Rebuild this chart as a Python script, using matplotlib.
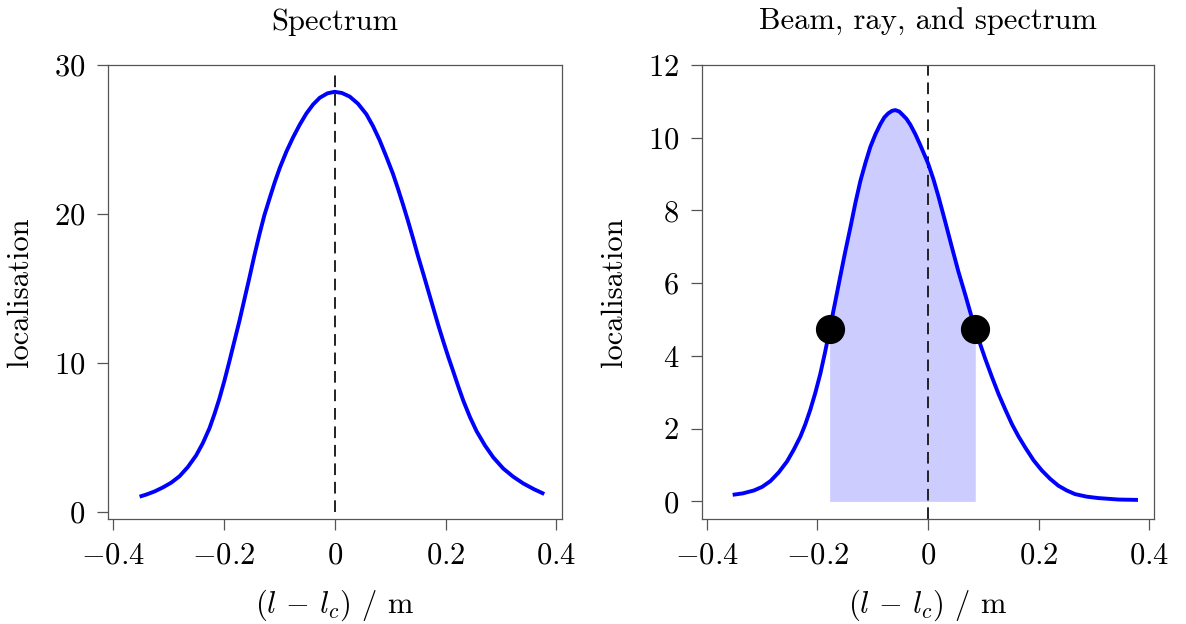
import matplotlib
matplotlib.use("Agg")
import matplotlib.pyplot as plt
import numpy as np
from matplotlib.ticker import FuncFormatter

# spectrum (left panel)
spec_x = [-0.352, -0.340, -0.325, -0.310, -0.295, -0.280, -0.265, -0.250, -0.238,
          -0.226, -0.217, -0.208, -0.199, -0.190, -0.181, -0.172, -0.163, -0.154,
          -0.145, -0.136, -0.127, -0.117, -0.108, -0.099, -0.087, -0.075, -0.063,
          -0.051, -0.039, -0.027, -0.013, 0.0,
          0.013, 0.027, 0.042, 0.057, 0.069, 0.081, 0.093, 0.105, 0.114, 0.123,
          0.132, 0.141, 0.150, 0.160, 0.169, 0.178, 0.187, 0.196, 0.205, 0.214,
          0.223, 0.232, 0.244, 0.256, 0.271, 0.286, 0.304, 0.322, 0.340, 0.360,
          0.378]
spec_y = [1.01, 1.15, 1.36, 1.63, 1.95, 2.38, 3.00, 3.78, 4.60,
          5.60, 6.55, 7.60, 8.80, 10.1, 11.45, 12.8, 14.25, 15.7,
          17.2, 18.6, 19.9, 21.1, 22.15, 23.1, 24.2, 25.15, 26.0,
          26.75, 27.35, 27.8, 28.1, 28.2,
          28.12, 27.88, 27.4, 26.7, 25.9, 24.95, 23.85, 22.7, 21.7, 20.65,
          19.55, 18.4, 17.2, 15.95, 14.8, 13.65, 12.5, 11.42, 10.38, 9.4,
          8.4, 7.45, 6.35, 5.4, 4.45, 3.65, 2.9, 2.35, 1.9, 1.5,
          1.19]

# beam (right panel)
beam_x = [-0.3535, -0.335, -0.315, -0.300, -0.285, -0.270, -0.255, -0.243, -0.231,
          -0.222, -0.213, -0.204, -0.195, -0.186, -0.177, -0.168, -0.159, -0.150,
          -0.1405, -0.1315, -0.1224, -0.113, -0.1043, -0.095, -0.086, -0.079, -0.072,
          -0.065, -0.059, -0.052, -0.046, -0.039, -0.032, -0.023, -0.014, -0.007,
          0.0, 0.010, 0.019, 0.031, 0.0434, 0.055, 0.0675, 0.0765, 0.0855, 0.095,
          0.1036, 0.1157, 0.1277, 0.140, 0.152, 0.164, 0.176, 0.191, 0.206, 0.221,
          0.236, 0.251, 0.266, 0.287, 0.3085, 0.345, 0.380]
beam_y = [0.18, 0.22, 0.30, 0.40, 0.56, 0.80, 1.10, 1.42, 1.78,
          2.12, 2.52, 2.98, 3.50, 4.12, 4.80, 5.48, 6.17, 6.85,
          7.53, 8.20, 8.81, 9.32, 9.75, 10.1, 10.38, 10.56, 10.67,
          10.74, 10.76, 10.72, 10.63, 10.52, 10.36, 10.1, 9.80, 9.55,
          9.30, 8.85, 8.38, 7.70, 6.98, 6.32, 5.68, 5.20, 4.74, 4.30,
          3.92, 3.42, 2.95, 2.52, 2.12, 1.78, 1.48, 1.13, 0.85, 0.62,
          0.43, 0.30, 0.20, 0.13, 0.09, 0.05, 0.04]

# ray end points
ray_x = [-0.178, 0.0855]
ray_y = [4.73, 4.74]

spec_ticks = [0, 10, 20, 30]
beam_ticks = [0, 2, 4, 6, 8, 10, 12]
x_ticks = [-0.4, -0.2, 0, 0.2, 0.4]

plt.rcParams['font.family'] = 'cmr10'
plt.rcParams['mathtext.fontset'] = 'cm'
plt.rcParams['axes.formatter.use_mathtext'] = True
plt.rcParams['axes.unicode_minus'] = True

fs = 22
edge = '#555555'

fig = plt.figure(figsize=(11.86, 6.24), dpi=100)
ax1 = fig.add_axes([108 / 1186, 1 - 519 / 624, 454 / 1186, 454 / 624])
ax2 = fig.add_axes([702 / 1186, 1 - 519 / 624, 452 / 1186, 454 / 624])

fmt = FuncFormatter(lambda v, p: '$%g$' % v)

# left
ax1.plot(spec_x, spec_y, color='blue', lw=2.8, solid_capstyle='butt', zorder=3)
ax1.vlines(0, 0, max(spec_y) * 1.05, colors='#222222', linestyles=(0, (6, 3.5)), lw=1.4, zorder=2)
ax1.set_xlim(-0.409, 0.410)
ax1.set_ylim(-0.49, 30.0)
ax1.set_yticks(spec_ticks)
ax1.set_title('Spectrum', fontsize=fs, pad=25)

# right
bx = np.array(beam_x)
by = np.array(beam_y)
inside = (bx > ray_x[0]) & (bx < ray_x[1])
fill_x = np.concatenate([[ray_x[0]], bx[inside], [ray_x[1]]])
fill_y = np.concatenate([[ray_y[0]], by[inside], [ray_y[1]]])
ax2.fill_between(fill_x, 0, fill_y, color='#ccccff', lw=0, zorder=1)
ax2.plot(beam_x, beam_y, color='blue', lw=2.8, solid_capstyle='butt', zorder=3)
ax2.axvline(0, color='#222222', ls=(0, (6, 3.5)), lw=1.4, zorder=2)
ax2.plot(ray_x, ray_y, 'o', color='black', ms=20, zorder=4)
ax2.set_xlim(-0.409, 0.409)
ax2.set_ylim(-0.485, 12.0)
ax2.set_yticks(beam_ticks)
ax2.set_title('Beam, ray, and spectrum', fontsize=fs, pad=25)

for ax in (ax1, ax2):
    ax.set_xticks(x_ticks)
    ax.xaxis.set_major_formatter(fmt)
    ax.yaxis.set_major_formatter(fmt)
    ax.tick_params(direction='out', length=8, width=0.9, color=edge, pad=8.4,
                   labelsize=fs, top=False, right=False)
    for s in ax.spines.values():
        s.set_color(edge)
        s.set_linewidth(0.9)
    ax.set_xlabel(r'$(l\,-\,l_c)$ / m', fontsize=fs, labelpad=13)
    ax.set_ylabel('localisation', fontsize=fs, labelpad=14)

fig.savefig('out.png', dpi=100)
